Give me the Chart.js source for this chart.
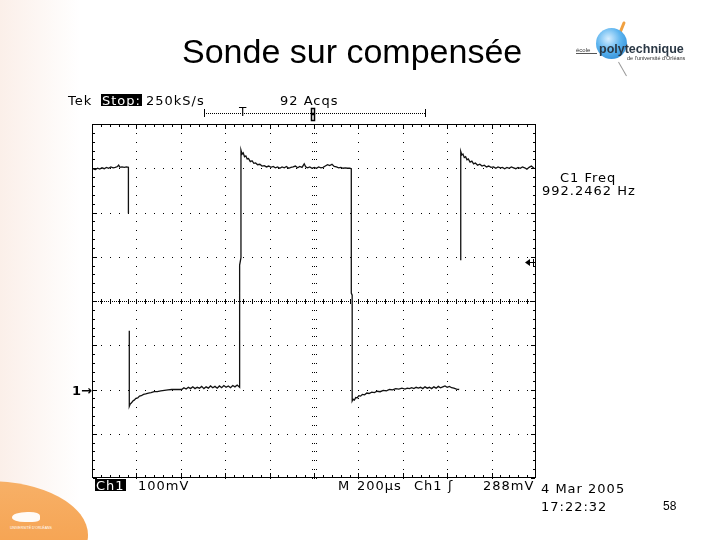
<!DOCTYPE html>
<html>
<head>
<meta charset="utf-8">
<script src="https://cdn.jsdelivr.net/npm/chart.js"></script>
<style>
  body { margin: 0; background: #fff; }
  #slide { position: relative; width: 720px; height: 540px; overflow: hidden; background: #fff; }
  #leftband { position: absolute; left: 0; top: 0; width: 80px; height: 540px;
    background: linear-gradient(to right, #fbefe9, #fff); }
  #orange { position: absolute; left: -112px; top: 481px; width: 200px; height: 108px;
    border-radius: 50%; background: linear-gradient(to bottom, #f7b067, #f59c45); }
  #scope { position: absolute; left: 0; top: 0; }
  .t { position: absolute; white-space: nowrap; }
  .tek { font: 13px "DejaVu Sans", sans-serif; line-height: 13px; letter-spacing: 1px; color: #000; }
  .inv { background: #000; color: #fff; padding: 0 1px; height: 12px; }
  #title { font: 34px "Liberation Sans", Arial, sans-serif; line-height: 34px; left: 182px; top: 34px; }
  #page { font: 12px "Liberation Sans", Arial, sans-serif; line-height: 12px; left: 663px; top: 500px; }
  #sphere { position: absolute; left: 596px; top: 28px; width: 31px; height: 31px; border-radius: 50%;
    background: radial-gradient(circle at 40% 35%, #d6eeff, #5cb4ef 45%, #1f7dcc); }
  #poly { font: bold 12.5px "Liberation Sans", Arial, sans-serif; line-height: 13px; color: #2b3845; left: 599px; top: 43px; }
  #ecole { font: 6px "Liberation Sans", Arial, sans-serif; line-height: 6px; color: #333; left: 576px; top: 47px;
    border-bottom: 1px solid #555; padding-right: 7px; }
  #orleans { font: 5.5px "Liberation Sans", Arial, sans-serif; line-height: 6px; color: #333; left: 627px; top: 55px; }
  #flame { position: absolute; left: 620px; top: 21px; width: 3px; height: 16px; background: #f0a040;
    transform: rotate(22deg); border-radius: 2px; }
  #stem { position: absolute; left: 622px; top: 61px; width: 1px; height: 16px; background: #999;
    transform: rotate(-30deg); }
  #bird { position: absolute; left: 12px; top: 512px; width: 28px; height: 10px; background: #fff;
    border-radius: 60% 40% 30% 50%; opacity: 0.95; }
  #univ { font: 3.5px "Liberation Sans", Arial, sans-serif; line-height: 4px; color: #fff; left: 10px; top: 526px; }
</style>
</head>
<body>
<div id="slide">
  <div id="leftband"></div>
  <div id="orange"></div>
  <div id="bird"></div>
  <div class="t" id="univ">UNIVERSITÉ D'ORLÉANS</div>
  <canvas id="scope" width="720" height="540"></canvas>

  <div class="t" id="title">Sonde sur compensée</div>
  <div class="t" id="page">58</div>

  <div id="flame"></div>
  <div id="stem"></div>
  <div id="sphere"></div>
  <div class="t" id="ecole">école</div>
  <div class="t" id="poly">polytechnique</div>
  <div class="t" id="orleans">de l'université d'Orléans</div>

  <div class="t tek" style="left:68px;top:94px">Tek</div>
  <div class="t tek inv" style="left:101px;top:94px">Stop:</div>
  <div class="t tek" style="left:146px;top:94px">250kS/s</div>
  <div class="t tek" style="left:280px;top:94px">92 Acqs</div>
  <div class="t tek" style="left:239px;top:106px;font-size:12px">T</div>

  <div class="t tek" style="left:560px;top:171px">C1 Freq</div>
  <div class="t tek" style="left:542px;top:184px">992.2462 Hz</div>

  <div class="t tek" style="left:72px;top:384px;font-weight:bold;letter-spacing:0">1→</div>

  <div class="t tek inv" style="left:95px;top:479px">Ch1</div>
  <div class="t tek" style="left:138px;top:479px">100mV</div>
  <div class="t tek" style="left:338px;top:479px">M</div>
  <div class="t tek" style="left:357px;top:479px">200µs</div>
  <div class="t tek" style="left:414px;top:479px">Ch1</div>
  <div class="t tek" style="left:448px;top:479px">ʃ</div>
  <div class="t tek" style="left:483px;top:479px">288mV</div>
  <div class="t tek" style="left:541px;top:482px">4 Mar 2005</div>
  <div class="t tek" style="left:541px;top:500px">17:22:32</div>
</div>

<script>
// time axis: 200 µs/div, 10 div ; volts: 100 mV/div, ground 2 div above bottom
const divTimesUs = [0, 200, 400, 600, 800, 1000, 1200, 1400, 1600, 1800, 2000];
const divVoltsMv = [-200, -100, 0, 100, 200, 300, 400, 500, 600];
const minorPerDiv = 5;
const triggerMv = 288;

// trace, [time µs, mV]
const firstHigh = [[6,498],[15,497],[25,500],[35,498],[45,501],[55,499],[65,502],[75,500],[85,503],
  [95,501],[105,502],[115,504],[120,507],[126,502],[135,503],[145,502],[155,503],[164,502],[164,398]];

const firstLow = [[168,133],[168,-38],[172,-33],[178,-30],[184,-26],[190,-24],[198,-20],[206,-19],
  [214,-15],[222,-14],[232,-11],[242,-10],[254,-8],[266,-7],[280,-5],[294,-5],[310,-3],[326,-2],
  [342,-1],[359,0],[380,0],[404,0],[414,4],[424,1],[434,5],[444,2],[454,6],[464,2],[474,5],[484,3],
  [494,7],[504,2],[514,6],[524,3],[534,8],[544,4],[554,7],[564,3],[574,8],[584,4],[594,9],[604,5],
  [614,8],[624,4],[634,9],[644,6],[654,10],[665,5]];

const secondHigh = [[665,281],[671,298],[671,541],[676,532],[681,535],[687,526],[693,528],[699,521],
  [705,522],[713,515],[721,517],[729,511],[737,512],[746,508],[756,509],[766,505],[776,506],[786,503],
  [796,505],[806,502],[816,504],[826,501],[836,503],[846,500],[856,503],[866,501],[876,504],[886,500],
  [896,502],[906,503],[916,505],[926,501],[936,504],[946,502],[956,510],[963,503],[971,501],[981,503],
  [991,500],[1001,502],[1011,500],[1021,503],[1031,501],[1041,502],[1051,505],[1061,508],[1071,506],
  [1081,509],[1091,504],[1101,503],[1111,501],[1121,502],[1131,500],[1141,501],[1151,500],[1161,500],
  [1168,499]];

const secondLow = [[1168,218],[1172,213],[1172,-26],[1176,-22],[1182,-24],[1188,-18],[1194,-19],
  [1202,-14],[1210,-15],[1218,-11],[1228,-12],[1238,-8],[1248,-9],[1260,-6],[1272,-7],[1284,-4],
  [1298,-5],[1312,-2],[1326,-3],[1340,0],[1354,-1],[1368,2],[1382,1],[1396,3],[1410,1],[1420,3],
  [1430,2],[1440,4],[1450,2],[1460,5],[1470,3],[1480,5],[1490,2],[1500,6],[1510,3],[1520,5],[1530,2],
  [1540,6],[1550,3],[1560,7],[1570,4],[1580,6],[1590,8],[1600,5],[1610,7],[1620,4],[1630,3],[1642,1],
  [1654,0]];

const lastHigh = [[1661,292],[1661,538],[1666,530],[1671,532],[1677,524],[1683,526],[1689,519],
  [1695,521],[1703,514],[1711,516],[1719,510],[1727,512],[1737,507],[1747,509],[1757,505],[1767,507],
  [1777,503],[1787,505],[1797,502],[1809,503],[1819,500],[1829,503],[1839,501],[1849,502],[1859,499],
  [1869,502],[1879,500],[1889,503],[1899,501],[1909,499],[1919,502],[1929,500],[1939,503],[1949,501],
  [1959,498],[1969,502],[1979,505],[1991,500]];

const gap = [[null, null]];
const trace = [].concat(firstHigh, gap, firstLow, secondHigh, secondLow, gap, lastHigh)
  .map(([t, v], i, arr) => ({ x: t === null ? arr[i - 1][0] : t, y: v }));

const scopeGrid = {
  id: 'scopeGrid',
  beforeDatasetsDraw(chart) {
    const { ctx, chartArea: a, scales: { x, y } } = chart;
    ctx.save();
    ctx.fillStyle = '#000';
    const dot = (px, py, w = 1, h = 1) => ctx.fillRect(Math.round(px), Math.round(py), w, h);

    const minorX = [], minorY = [];
    for (let i = 0; i < divTimesUs.length - 1; i++) {
      const step = (divTimesUs[i + 1] - divTimesUs[i]) / minorPerDiv;
      for (let k = 0; k < minorPerDiv; k++) minorX.push(x.getPixelForValue(divTimesUs[i] + k * step));
    }
    for (let i = 0; i < divVoltsMv.length - 1; i++) {
      const step = (divVoltsMv[i + 1] - divVoltsMv[i]) / minorPerDiv;
      for (let k = 0; k < minorPerDiv; k++) minorY.push(y.getPixelForValue(divVoltsMv[i] + k * step));
    }
    const cx = x.getPixelForValue(1000), cy = y.getPixelForValue(200);

    // major grid lines, dotted at minor steps
    divTimesUs.slice(1, -1).forEach(t => {
      if (t === 1000) return;
      const px = x.getPixelForValue(t);
      minorY.forEach(py => dot(px, py));
    });
    divVoltsMv.slice(1, -1).forEach(v => {
      if (v === 200) return;
      const py = y.getPixelForValue(v);
      minorX.forEach(px => dot(px, py));
    });

    // centre cross
    for (let px = a.left + 2; px < a.right - 1; px += 2) dot(px, cy);
    minorX.forEach(px => dot(px, cy - 2, 1, 5));
    minorY.forEach(py => { dot(cx - 2, py); dot(cx, py); dot(cx + 2, py); });

    // border with inner ticks
    ctx.strokeStyle = '#000';
    ctx.lineWidth = 1;
    ctx.strokeRect(a.left + 0.5, a.top + 0.5, a.width - 1, a.height - 1);
    minorX.forEach((px, i) => {
      const h = i % minorPerDiv === 0 ? 4 : 2;
      dot(px, a.top + 1, 1, h);
      dot(px, a.bottom - 1 - h, 1, h);
    });
    minorY.forEach((py, i) => {
      const w = i % minorPerDiv === 0 ? 4 : 2;
      dot(a.left + 1, py, w, 1);
      dot(a.right - 1 - w, py, w, 1);
    });
    ctx.restore();
  },
  afterDraw(chart) {
    const { ctx, chartArea: a, scales: { y } } = chart;
    ctx.save();
    ctx.fillStyle = '#000';
    ctx.strokeStyle = '#000';
    // trigger level arrow on right edge
    const ty = Math.round(y.getPixelForValue(triggerMv)) + 0.5;
    ctx.beginPath();
    ctx.moveTo(a.right - 10, ty);
    ctx.lineTo(a.right - 1, ty);
    ctx.stroke();
    ctx.beginPath();
    ctx.moveTo(a.right - 11, ty);
    ctx.lineTo(a.right - 6, ty - 3.5);
    ctx.lineTo(a.right - 6, ty + 3.5);
    ctx.closePath();
    ctx.fill();
    ctx.fillRect(a.right - 3, ty - 3.5, 1, 7);

    // record bar above the screen
    ctx.fillRect(204, 109, 1, 8);
    ctx.fillRect(425, 109, 1, 8);
    for (let px = 206; px < 425; px += 2) ctx.fillRect(px, 113, 1, 1);
    ctx.lineWidth = 1.5;
    ctx.strokeRect(311.5, 108.5, 3, 5);
    ctx.strokeRect(311.5, 114.5, 3, 6);
    ctx.restore();
  }
};

new Chart(document.getElementById('scope'), {
  type: 'line',
  data: {
    datasets: [{
      data: trace,
      borderColor: '#111',
      borderWidth: 1.3,
      pointRadius: 0,
      tension: 0,
      spanGaps: false
    }]
  },
  options: {
    responsive: false,
    devicePixelRatio: 1,
    animation: false,
    layout: { padding: { left: 92, top: 124, right: 184, bottom: 62 } },
    scales: {
      x: { type: 'linear', min: 0, max: 2000, display: false },
      y: { min: -200, max: 600, display: false }
    },
    plugins: { legend: { display: false }, tooltip: { enabled: false } }
  },
  plugins: [scopeGrid]
});
</script>
</body>
</html>
